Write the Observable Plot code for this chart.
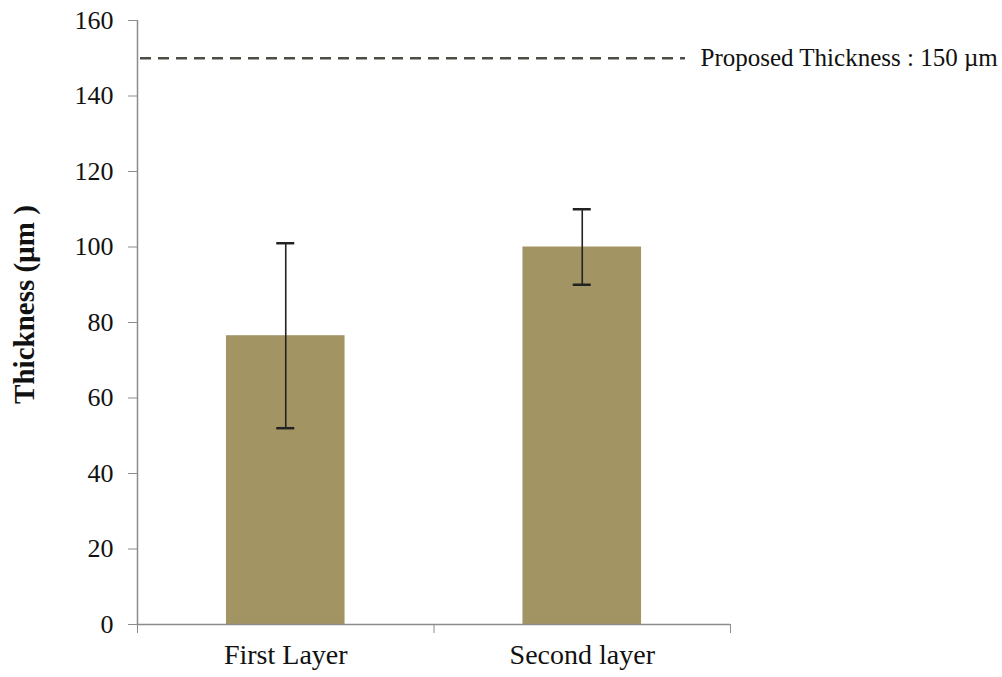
<!DOCTYPE html>
<html>
<head>
<meta charset="utf-8">
<script src="https://cdn.jsdelivr.net/npm/d3@7"></script>
<script src="https://cdn.jsdelivr.net/npm/@observablehq/plot@0.6"></script>
<style>
  html, body { margin: 0; padding: 0; background: #fff; }
  #chart { width: 1002px; height: 677px; }
  #chart svg, #chart svg text { font-family: "Liberation Serif", "Times New Roman", serif !important; }
</style>
</head>
<body>
<div id="chart"></div>
<script>
const categories = ["First Layer", "Second layer"];
const means = [76.5, 100];
const errors = [24.5, 10];
const proposed = 150;
const yTicks = [0, 20, 40, 60, 80, 100, 120, 140, 160];
const yLabel = "Thickness (µm )";

const data = categories.map((c, i) => ({cat: c, i, mean: means[i], err: errors[i]}));

const axisGray = "#8c8c8c";
const barColor = "#a39563";
const serif = "Liberation Serif";

const chart = Plot.plot({
  width: 1002,
  height: 677,
  marginLeft: 137,
  marginRight: 272,
  marginTop: 20,
  marginBottom: 53,
  style: {fontFamily: serif, color: "#111", background: "#fff"},
  x: {domain: [0, categories.length], axis: null},
  y: {domain: [0, 160], axis: null},
  marks: [
    Plot.rectY(data, {x1: d => d.i + 0.3, x2: d => d.i + 0.7, y: "mean", fill: barColor}),
    Plot.ruleX(data, {x: d => d.i + 0.5, y1: d => d.mean - d.err, y2: d => d.mean + d.err, stroke: "#222", strokeWidth: 1.6}),
    Plot.ruleY(data, {y: d => d.mean + d.err, x1: d => d.i + 0.5, x2: d => d.i + 0.5, insetLeft: -9, insetRight: -9, stroke: "#222", strokeWidth: 2.5}),
    Plot.ruleY(data, {y: d => d.mean - d.err, x1: d => d.i + 0.5, x2: d => d.i + 0.5, insetLeft: -9, insetRight: -9, stroke: "#222", strokeWidth: 2.5}),
    Plot.ruleY([proposed], {insetLeft: 3, insetRight: 45, stroke: "#4d4d45", strokeWidth: 2.6, strokeDasharray: "11,7"}),
    Plot.text([proposed], {y: d => d, frameAnchor: "right", dx: -30, textAnchor: "start", text: d => `Proposed Thickness : ${d} µm`, fontSize: 25, fontFamily: serif, fill: "#111"}),
    Plot.ruleX([0], {stroke: axisGray, strokeWidth: 1.5}),
    Plot.ruleY([0], {stroke: axisGray, strokeWidth: 1.5}),
    Plot.axisY({ticks: yTicks, tickSize: 9, tickPadding: 15, fontSize: 26, fontFamily: serif, stroke: axisGray, color: "#111", label: null}),
    Plot.axisX({ticks: d3.range(categories.length + 1), tickFormat: () => "", tickSize: 9, stroke: axisGray, label: null}),
    Plot.axisX({ticks: categories.map((c, i) => i + 0.5), tickFormat: d => categories[Math.floor(d)], tickSize: 0, tickPadding: 20, fontSize: 28, fontFamily: serif, color: "#111", label: null}),
    Plot.text([yLabel], {text: d => d, frameAnchor: "left", textAnchor: "middle", dx: -113, dy: -18, rotate: -90, fontSize: 29, fontWeight: "bold", fontFamily: serif, fill: "#111"})
  ]
});

document.getElementById("chart").appendChild(chart);
</script>
</body>
</html>
